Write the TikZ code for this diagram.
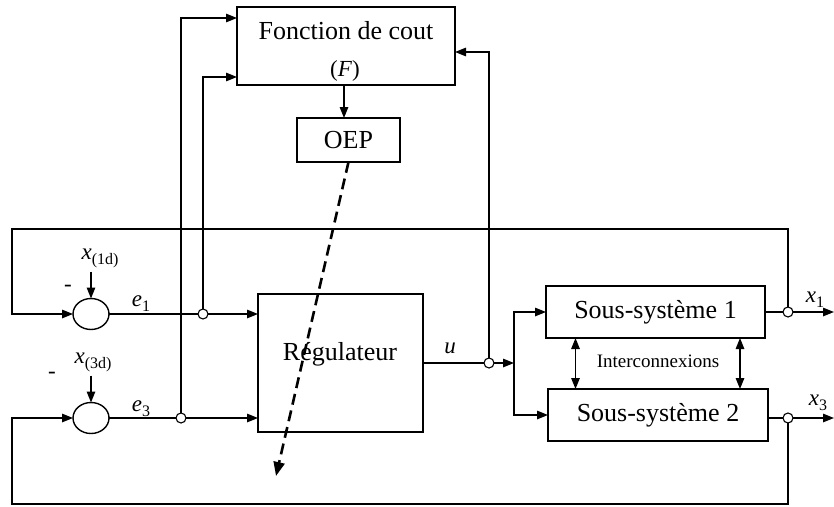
\documentclass[tikz,border=0pt]{standalone}
\usepackage{fontspec}
\setmainfont{Liberation Serif}
\usetikzlibrary{arrows.meta,shapes.geometric}
% italic variable with a lowered index
\newcommand\sbs[1]{\raisebox{-5pt}{\fontsize{16}{18}\selectfont #1}}
\newcommand\var[2]{\textit{#1}\sbs{#2}}

\begin{document}
\begin{tikzpicture}[x=1pt,y=-1pt,
  every node/.style={inner sep=0pt,outer sep=0pt},
  blk/.style={draw,line width=1.4pt,fill=white},
  wire/.style={line width=1.4pt},
  arr/.style={wire,-{Triangle[length=11pt,width=8.5pt]}},
  dbl/.style={wire,{Triangle[length=11pt,width=8.5pt]}-{Triangle[length=11pt,width=8.5pt]}},
  jn/.style={circle,draw,line width=1.1pt,fill=white,minimum size=10pt},
  sumn/.style={ellipse,draw,line width=1.4pt,minimum width=36pt,minimum height=31pt},
  big/.style={font=\fontsize{26}{30}\selectfont},
  lbl/.style={font=\fontsize{23}{26}\selectfont},
  small/.style={font=\fontsize{19}{22}\selectfont},
  oeparrow/.style={line width=2.6pt,dash pattern=on 11pt off 6pt,
    -{Triangle[length=14pt,width=11pt]}},
]
\useasboundingbox (0,0) rectangle (834,506);

% blocks
\node[blk,minimum width=218pt,minimum height=78pt] (F) at (346,46) {};
\node[big,anchor=base] (Ft) at (346,39) {Fonction de cout};
\node[lbl,anchor=base] (Fs) at (345,76) {(\textit{F})};
\node[blk,big,minimum width=103pt,minimum height=44pt] (OEP) at (348.5,140) {OEP};
\node[blk,minimum width=165pt,minimum height=138pt] (Reg) at (340.5,363) {};
\node[big,anchor=base] (Regt) at (340,360) {Régulateur};
\node[blk,big,minimum width=219pt,minimum height=52pt] (SS1) at (655.5,312) {Sous-système 1};
\node[blk,big,minimum width=220pt,minimum height=52pt] (SS2) at (658,415) {Sous-système 2};
\node[small] (ic) at (658,361) {Interconnexions};

% summing junctions
\node[sumn] (S1) at (91,314) {};
\node[sumn] (S2) at (91,418) {};

% take-off points
\node[jn] (j1) at (203,314) {};
\node[jn] (j3) at (181,418) {};
\node[jn] (ju) at (489,363) {};
\node[jn] (jx1) at (788,312) {};
\node[jn] (jx3) at (788,418) {};

% signal labels
\node[lbl] (x1d) at (100,258) {\var{x}{(1d)}};
\node[lbl] (m1) at (68,288) {-};
\node[lbl] (x3d) at (93,362) {\var{x}{(3d)}};
\node[lbl] (m3) at (52,375) {-};
\node[lbl] (le1) at (141,304) {\var{e}{1}};
\node[lbl] (le3) at (141,409) {\var{e}{3}};
\node[lbl] (lu) at (450,348) {\textit{u}};
\node[lbl] (lx1) at (815,300) {\var{x}{1}};
\node[lbl] (lx3) at (818,403) {\var{x}{3}};

% free ends
\coordinate (tl) at (12,229);
\coordinate (bl) at (12,504);
\coordinate (sp) at (514,363);
\coordinate (o1) at (834,312);
\coordinate (o3) at (834,418);
\coordinate (dEnd) at (276,476);

% references
\draw[arr] ([yshift=27pt]S1.north) -- (S1.north);
\draw[arr] ([yshift=27pt]S2.north) -- (S2.north);

% feedback loops
\draw[arr] (jx1.north) |- (tl) |- (S1.west);
\draw[arr] (jx3.south) |- (bl) |- (S2.west);

% errors to the controller
\draw[wire] (S1.east) -- (j1.west);
\draw[arr] (j1.east) -- (j1.east -| Reg.west);
\draw[wire] (S2.east) -- (j3.west);
\draw[arr] (j3.east) -- (j3.east -| Reg.west);

% inputs of the cost function
\draw[arr] (j3.north) |- ([yshift=28pt]F.west);
\draw[arr] (j1.north) |- ([yshift=-31pt]F.west);
\draw[arr] (ju.north) |- ([yshift=-6pt]F.east);
\draw[arr] ([xshift=-2pt]F.south) -- ([xshift=-2pt]F.south |- OEP.north);

% control signal
\draw[wire] (Reg.east) -- (ju.west);
\draw[arr] (ju.east) -- (sp);
\draw[arr] (sp) |- (SS1.west);
\draw[arr] (sp) |- (SS2.west);

% outputs
\draw[wire] (SS1.east) -- (jx1.west);
\draw[arr] (jx1.east) -- (o1);
\draw[wire] (jx3.west -| SS2.east) -- (jx3.west);
\draw[arr] (jx3.east) -- (o3);

% interconnections
\draw[dbl] ([xshift=-80pt]SS1.south) -- ([xshift=-80pt]SS1.south |- SS2.north);
\draw[dbl] ([xshift=84.5pt]SS1.south) -- ([xshift=84.5pt]SS1.south |- SS2.north);

% optimiser acting on the controller
\draw[oeparrow] (OEP.south) -- (dEnd);
\end{tikzpicture}
\end{document}
